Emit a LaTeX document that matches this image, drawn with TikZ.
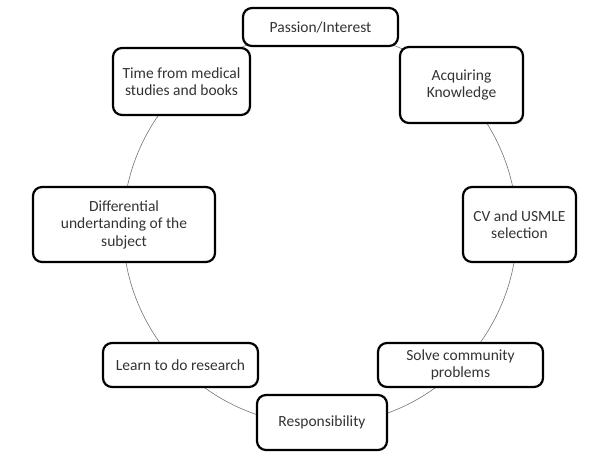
\documentclass[tikz,border=0pt]{standalone}
\usepackage{fontspec}
\setmainfont{Carlito}
\begin{document}
\begin{tikzpicture}[x=1pt,y=-1pt,
  box/.style={draw=black,line width=2.2pt,rounded corners=9pt,fill=white,
    align=center,inner sep=0pt,font=\fontsize{15.5}{17.5}\selectfont,text=black!80},
  ring/.style={draw=black!55,line width=0.6pt}]
\useasboundingbox (0,0) rectangle (608,457);
\draw[ring] (320,228) circle (197);
\node[box,minimum width=155pt,minimum height=38pt] (pass) at (320.5,27) {Passion/Interest};
\node[box,minimum width=137pt,minimum height=67pt] (time) at (181.5,81.5) {Time from medical\\studies and books};
\node[box,minimum width=123pt,minimum height=76pt] (acq) at (461.5,85) {Acquiring\\Knowledge};
\node[box,minimum width=182pt,minimum height=75pt] (diff) at (124,224.5) {Differential\\undertanding of the\\subject};
\node[box,minimum width=113pt,minimum height=75pt] (cv) at (519.5,224.5) {CV and USMLE\\selection};
\node[box,minimum width=155pt,minimum height=44pt] (learn) at (180.5,365) {Learn to do research};
\node[box,minimum width=165pt,minimum height=44pt] (solve) at (460.5,365) {Solve community\\problems};
\node[box,minimum width=130pt,minimum height=55pt] (resp) at (322,422.5) {Responsibility};
\end{tikzpicture}
\end{document}
